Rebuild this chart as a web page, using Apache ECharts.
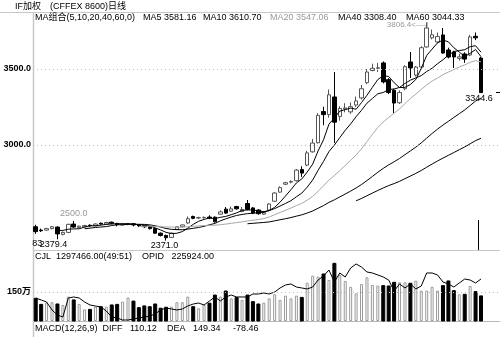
<!DOCTYPE html>
<html>
<head>
<meta charset="utf-8">
<script src="https://cdn.jsdelivr.net/npm/echarts@6/dist/echarts.min.js"></script>
<style>
html,body{margin:0;padding:0;background:#fff}
#chart{width:500px;height:337px}
</style>
</head>
<body>
<div id="chart"></div>
<script>
// IF加权 daily bars: open / high / low / close
const opens = [2462,2440,2440,2450,2460,2412,2425,2480,2458,2462,
  2472,2468,2485,2480,2492,2484,2474,2478,2482,2474,
  2470,2462,2450,2420,2405,2392,2445,2462,2487,2530,
  2520,2522,2526,2525,2545,2578,2565,2595,2562,2615,
  2586,2572,2545,2572,2630,2690,2742,2756,2765,2838,
  2868,2955,3015,3220,3200,3316,3188,3238,3218,3263,
  3310,3410,3490,3505,3540,3430,3360,3278,3370,3546,
  3460,3513,3645,3705,3678,3724,3625,3612,3570,3599,
  3592,3715,3572];
const highs = [2475,2450,2455,2468,2465,2430,2482,2500,2470,2475,
  2478,2485,2490,2495,2496,2488,2484,2486,2486,2478,
  2474,2466,2454,2425,2410,2425,2466,2478,2530,2535,
  2528,2530,2538,2530,2570,2592,2595,2600,2592,2638,
  2592,2578,2566,2618,2690,2728,2758,2768,2842,2860,
  2962,3040,3210,3252,3365,3480,3255,3275,3280,3318,
  3395,3500,3535,3540,3550,3440,3370,3360,3525,3612,
  3520,3650,3806.4,3760,3740,3770,3640,3620,3600,3610,
  3725,3740,3580];
const lows = [2415,2428,2435,2445,2379.4,2405,2420,2455,2452,2458,
  2462,2465,2475,2476,2478,2465,2470,2472,2465,2460,
  2455,2444,2415,2398,2371,2388,2440,2458,2480,2512,
  2514,2516,2512,2490,2540,2548,2560,2575,2558,2570,
  2545,2542,2540,2565,2625,2685,2736,2748,2760,2790,
  2860,2950,3010,3130,3180,3013,3160,3215,3205,3250,
  3300,3400,3485,3480,3405,3335,3210,3270,3360,3441,
  3450,3505,3640,3695,3670,3600,3570,3507,3555,3540,
  3585,3690,3344.6];
const closes = [2430,2436,2450,2462,2415,2425,2478,2460,2466,2470,
  2468,2480,2480,2490,2485,2476,2480,2482,2474,2468,
  2462,2450,2420,2405,2390,2420,2462,2474,2515,2517.8,
  2522,2524,2520,2495,2560,2552,2580,2580,2576,2576,
  2552,2548,2555,2612,2684,2720,2752,2760,2835,2815,
  2948,3013,3194.8,3200,3330,3150,3240,3244,3252,3290,
  3370,3480,3505,3508,3415,3345,3276,3345,3515.2,3507,
  3513,3640,3770,3725,3713.2,3605,3579,3579,3580,3565.2,
  3711,3705,3344.6];
// 成交量 (万手)
const volumes = [117,86,95,97,88,83,126,109,88,60,
  60,74,74,74,83,86,100,121,103,69,
  78,74,88,66,71,74,97,97,126,74,
  66,83,92,134,126,155,117,121,109,134,
  100,88,95,117,138,109,131,117,131,122,
  198,234,229,243,212,298,238,207,177,143,
  191,226,186,183,183,181,200,200,200,195,
  208,157,157,177,157,183,207,157,138,138,
  181,152,129.7466];
// 持仓量
const openInterest = [191600,188000,184400,169900,160800,157200,191600,193400,191600,184400,
  178900,177100,175300,168100,157200,155400,151800,151800,153600,155400,
  157200,159000,162700,169900,173500,171700,169900,171700,177100,180700,
  182500,178900,186200,193400,186200,193400,197000,193400,193400,193400,
  198800,198800,200600,198800,202400,209700,215100,216900,211500,209700,
  207900,211500,224100,231400,242200,220500,236800,229600,245800,253100,
  247600,238600,236800,233200,229600,224100,204200,216900,209700,216900,
  207900,213300,236800,236800,233200,220500,216900,211500,218700,225900,
  224100,218700,225924];
const maPeriods = [5, 10, 20, 40, 60];
const priceTicks = [3500, 3000];
const volumeTick = 150;

// three empty slots keep some room on the right of the last bar
const days = [];
for (let i = 0; i < closes.length + 3; i++) days.push('D' + (i + 1));

function movingAverage(n) {
  return closes.map(function (_, i) {
    if (i < n - 1) return '-';
    let s = 0;
    for (let k = i - n + 1; k <= i; k++) s += closes[k];
    return s / n;
  });
}
const maData = maPeriods.map(movingAverage);
const maColors = ['#000', '#000', '#a8a8a8', '#000', '#000'];
const last = closes.length - 1;

const FONT = '"Liberation Sans","Noto Sans CJK SC",Arial,sans-serif';
const candleData = closes.map(function (c, i) { return [opens[i], c, lows[i], highs[i]]; });
const volumeData = volumes.map(function (v, i) {
  const down = closes[i] < opens[i];
  return { value: v, itemStyle: down ? { color: '#000', borderColor: '#000' } : { color: '#fff', borderColor: '#9a9a9a', borderWidth: 1 } };
});

function pointLabel(i, value, text, dx, dy, color, align, size) {
  return {
    coord: [days[i], value], value: value,
    symbol: 'circle', symbolSize: 1, itemStyle: { color: 'rgba(0,0,0,0)' },
    label: {
      show: true, position: 'inside', formatter: text, offset: [dx, dy],
      align: align || 'center', verticalAlign: 'middle',
      color: color || '#000', fontSize: size || 9, fontFamily: FONT
    }
  };
}

const chart = echarts.init(document.getElementById('chart'), null, { renderer: 'canvas' });

function headText(x, y, text, color, weight) {
  return { type: 'text', x: x, y: y, silent: true,
    style: { text: text, fill: color || '#000', font: (weight || 'normal') + ' 9px ' + FONT, verticalAlign: 'middle' } };
}
function rule(x1, y1, x2, y2, color, w) {
  return { type: 'line', silent: true, shape: { x1: x1, y1: y1, x2: x2, y2: y2 }, style: { stroke: color, lineWidth: w || 1 } };
}

const maLegend = ['MA5', 'MA10', 'MA20', 'MA40', 'MA60'];
const maLegendX = [143, 203, 270, 338, 406];

const graphics = [
  rule(0, 12.5, 500, 12.5, '#c8c8c8'),
  rule(33, 250.5, 500, 250.5, '#c8c8c8'),
  rule(33, 321.5, 500, 321.5, '#b8b8b8'),
  rule(33.5, 12, 33.5, 337, '#c8c8c8', 1.5),
  rule(478.5, 220, 478.5, 250, '#000'),
  rule(479.5, 313, 479.5, 321, '#000'),
  rule(496, 92.5, 500, 92.5, '#000'),
  headText(15, 7, 'IF加权'),
  headText(50, 7, '(CFFEX 8600)日线'),
  headText(35, 18, 'MA组合(5,10,20,40,60,0)'),
  headText(35, 257, 'CJL  ' + (volumes[last] * 10000).toFixed(2) + '(49:51)'),
  headText(142, 257, 'OPID   ' + openInterest[last].toFixed(2)),
  headText(35, 329, 'MACD(12,26,9)  DIFF   110.12    DEA   149.34     -78.46')
];
maLegend.forEach(function (name, k) {
  graphics.push(headText(maLegendX[k], 18, name + ' ' + maData[k][last].toFixed(2), k === 2 ? '#999' : '#000'));
});

const series = [
  {
    type: 'candlestick', xAxisIndex: 0, yAxisIndex: 0, data: candleData,
    barWidth: 4,
    itemStyle: { color: '#fff', color0: '#000', borderColor: '#555', borderColor0: '#000', borderWidth: 1 },
    markLine: {
      silent: true, symbol: 'none', animation: false,
      lineStyle: { color: '#bbb', type: [1, 3], width: 1 },
      label: { position: 'start', distance: 2, formatter: function (p) { return p.value.toFixed(1); },
        color: '#000', fontWeight: 'bold', fontSize: 9, fontFamily: FONT },
      data: priceTicks.map(function (v) { return { yAxis: v }; })
    },
    markPoint: {
      silent: true, animation: false,
      data: [
        pointLabel(7, highs[7], highs[7].toFixed(1), 0, -7, '#999'),
        pointLabel(0, lows[0], '83', 1.5, 9.5),
        pointLabel(4, lows[4], lows[4].toFixed(1), -4, 5),
        pointLabel(24, lows[24], lows[24].toFixed(1), -1.5, 5),
        pointLabel(72, highs[72], highs[72].toFixed(1) + '<----|', 2, 2, '#999', 'right', 8),
        pointLabel(last, lows[last], lows[last].toFixed(1), -2, 5.5)
      ]
    }
  }
];
maData.forEach(function (d, k) {
  series.push({ type: 'line', xAxisIndex: 0, yAxisIndex: 0, data: d, showSymbol: false, silent: true,
    lineStyle: { color: maColors[k], width: 1 }, z: 3 });
});
series.push({
  type: 'bar', xAxisIndex: 1, yAxisIndex: 1, data: volumeData, barWidth: 3,
  markLine: {
    silent: true, symbol: 'none', animation: false,
    lineStyle: { color: '#bbb', type: [1, 3], width: 1 },
    label: { position: 'start', distance: 2, formatter: volumeTick + '万',
      color: '#000', fontWeight: 'bold', fontSize: 9, fontFamily: FONT },
    data: [{ yAxis: volumeTick }]
  }
});
series.push({ type: 'line', xAxisIndex: 1, yAxisIndex: 2, data: openInterest, showSymbol: false, silent: true,
  lineStyle: { color: '#000', width: 1 }, z: 4 });

const hiddenX = function (g) {
  return { type: 'category', gridIndex: g, data: days, boundaryGap: true,
    axisLine: { show: false }, axisTick: { show: false }, axisLabel: { show: false }, splitLine: { show: false } };
};
const hiddenY = function (g, min, max) {
  return { type: 'value', gridIndex: g, min: min, max: max,
    axisLine: { show: false }, axisTick: { show: false }, axisLabel: { show: false }, splitLine: { show: false } };
};

chart.setOption({
  animation: false,
  backgroundColor: '#fff',
  grid: [
    { left: 33, right: 0, top: 12, height: 238 },
    { left: 33, right: 0, top: 250, height: 71 }
  ],
  xAxis: [hiddenX(0), hiddenX(1)],
  yAxis: [
    hiddenY(0, 2309.2, 3875),
    hiddenY(1, 0, 367),
    hiddenY(1, 150000, 278368)
  ],
  graphic: graphics,
  series: series
});
</script>
</body>
</html>
